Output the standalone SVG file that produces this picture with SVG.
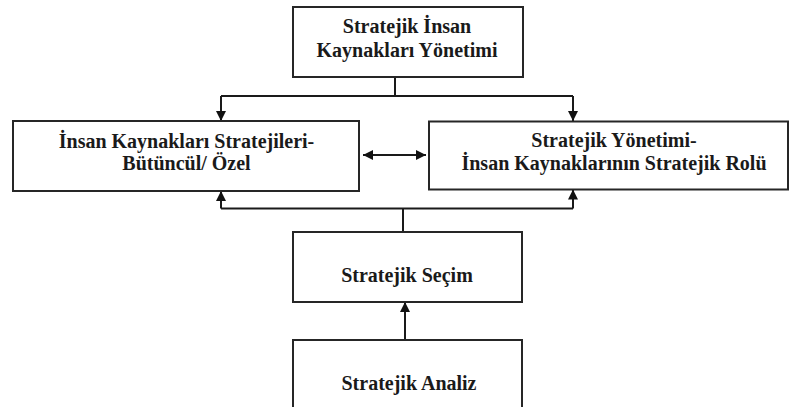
<svg xmlns="http://www.w3.org/2000/svg" width="790" height="407" viewBox="0 0 790 407">
<style>
.box{fill:#fff;stroke:#262626;stroke-width:2}
.t{font-weight:bold;font-size:20px;fill:#1a1a1a;text-anchor:middle}
.c{fill:none;stroke:#1a1a1a;stroke-width:2}
</style>
<defs>
<marker id="ah" viewBox="0 0 10 10" refX="10" refY="5" markerWidth="5" markerHeight="5" orient="auto-start-reverse" markerUnits="strokeWidth">
<path d="M0,0 L10,5 L0,10 z" fill="#111"/>
</marker>
</defs>
<g id="connectors">
<path class="c" d="M395,77 V96"/>
<path class="c" d="M221,96 H573"/>
<path class="c" d="M221,96 V121" marker-end="url(#ah)"/>
<path class="c" d="M573,96 V121" marker-end="url(#ah)"/>
<path class="c" d="M363,155 H426" marker-start="url(#ah)" marker-end="url(#ah)"/>
<path class="c" d="M221,208.5 H573"/>
<path class="c" d="M221,208.5 V191" marker-end="url(#ah)"/>
<path class="c" d="M573,208.5 V189.5" marker-end="url(#ah)"/>
<path class="c" d="M403,208.5 V232"/>
<path class="c" d="M405,340 V302" marker-end="url(#ah)"/>
</g>
<g font-family="Liberation Serif, DejaVu Serif, serif">
<g id="n-top">
<rect class="box" x="293" y="7" width="230" height="70"/>
<text class="t" x="407" y="33">Stratejik İnsan</text>
<text class="t" x="407" y="56.5">Kaynakları Yönetimi</text>
</g>
<g id="n-left">
<rect class="box" x="13" y="121" width="346" height="70"/>
<text class="t" x="186.5" y="148">İnsan Kaynakları Stratejileri-</text>
<text class="t" x="186.5" y="170">Bütüncül/ Özel</text>
</g>
<g id="n-right">
<rect class="box" x="429" y="121.5" width="359" height="68"/>
<text class="t" x="614" y="146.5">Stratejik Yönetimi-</text>
<text class="t" x="614" y="170">İnsan Kaynaklarının Stratejik Rolü</text>
</g>
<g id="n-secim">
<rect class="box" x="293" y="232" width="229" height="70"/>
<text class="t" x="407" y="281.5">Stratejik Seçim</text>
</g>
<g id="n-analiz">
<rect class="box" x="293" y="340" width="229" height="80"/>
<text class="t" x="409" y="390">Stratejik Analiz</text>
</g>
</g>
</svg>
